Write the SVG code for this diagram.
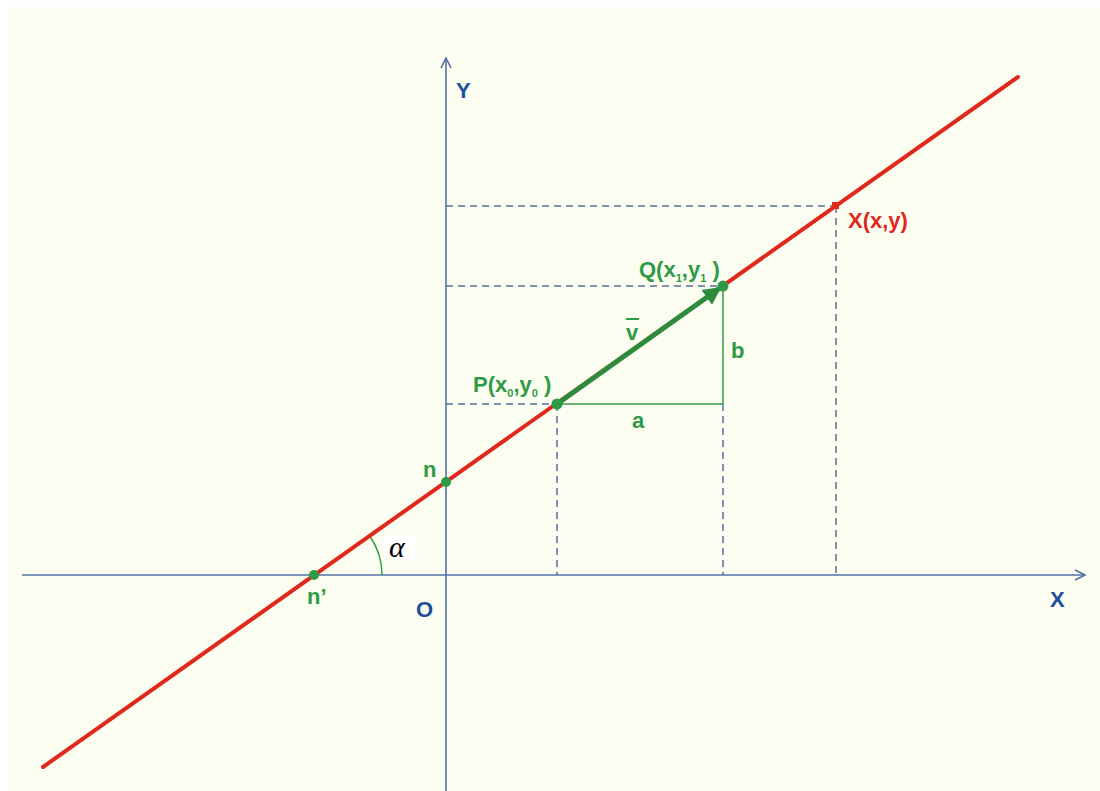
<svg xmlns="http://www.w3.org/2000/svg" width="1100" height="791" viewBox="0 0 1100 791">
<defs>
<style>
.axis{stroke:#5470a8;stroke-width:1.6;fill:none}
.dash{stroke:#5a6c98;stroke-width:1.5;stroke-dasharray:7,5;fill:none}
.thin{stroke:#3a9a4a;stroke-width:1.5;fill:none}
.lbl{font-family:"Liberation Sans",Arial,sans-serif;font-weight:bold;font-size:22px}
.g{fill:#2f9a45}
.b{fill:#1d4f9c}
.r{fill:#e0291c}
</style>
<marker id="open" viewBox="0 0 12 12" refX="11" refY="6" markerWidth="12" markerHeight="12" markerUnits="userSpaceOnUse" orient="auto">
<path d="M1,1 L11,6 L1,11" fill="none" stroke="#5470a8" stroke-width="1.6"/>
</marker>
<marker id="garrow" viewBox="0 0 10 10" refX="9" refY="5" markerWidth="4.5" markerHeight="3.6" orient="auto">
<path d="M0,0 L10,5 L0,10 z" fill="#2e8b3e"/>
</marker>
</defs>
<rect x="0" y="0" width="1100" height="791" fill="#ffffff"/>
<rect x="9" y="7" width="1091" height="784" fill="#fbfdf0"/>
<g id="connectors">
<line class="axis" x1="22" y1="575" x2="1085" y2="575" marker-end="url(#open)"/>
<line class="axis" x1="446" y1="791" x2="446" y2="58" marker-end="url(#open)"/>
<line class="dash" x1="446" y1="206" x2="836" y2="206"/>
<line class="dash" x1="446" y1="286" x2="723" y2="286"/>
<line class="dash" x1="446" y1="404" x2="557" y2="404"/>
<line class="dash" x1="557" y1="404" x2="557" y2="575"/>
<line class="dash" x1="723" y1="404" x2="723" y2="575"/>
<line class="dash" x1="836" y1="206" x2="836" y2="575"/>
<line class="thin" x1="557" y1="404" x2="723" y2="404"/>
<line class="thin" x1="723" y1="286" x2="723" y2="404"/>
<path class="thin" d="M382,575 A68,68 0 0 0 369.7,536"/>
<line x1="43" y1="767" x2="1018" y2="77" stroke="#e0291c" stroke-width="4" stroke-linecap="round"/>
<line x1="557" y1="404" x2="720" y2="288" stroke="#2e8b3e" stroke-width="5" marker-end="url(#garrow)"/>
</g>
<g id="node-nprime"><circle cx="314" cy="575" r="5" fill="#2e9a45"/><text class="lbl g" x="307" y="604">n’</text></g>
<g id="node-n"><circle cx="446" cy="482" r="5" fill="#2e9a45"/><text class="lbl g" x="423" y="477">n</text></g>
<g id="node-P"><circle cx="557" cy="404" r="5.5" fill="#2e9a45"/><text class="lbl g" x="473" y="392">P(x<tspan font-size="11" dy="5">0</tspan><tspan dy="-5">,y</tspan><tspan font-size="11" dy="5">0</tspan><tspan dy="-5"> )</tspan></text></g>
<g id="node-Q"><circle cx="723" cy="286" r="5.5" fill="#2e9a45"/><text class="lbl g" x="639" y="277">Q(x<tspan font-size="11" dy="5">1</tspan><tspan dy="-5">,y</tspan><tspan font-size="11" dy="5">1</tspan><tspan dy="-5"> )</tspan></text></g>
<g id="node-X"><rect x="832" y="202" width="7" height="7" fill="#e0291c"/><text class="lbl r" x="848" y="228">X(x,y)</text></g>
<g id="label-v"><text class="lbl g" x="626" y="340">v</text><line x1="626" y1="319" x2="639" y2="319" stroke="#2f9a45" stroke-width="2"/></g>
<g id="label-a"><text class="lbl g" x="632" y="428">a</text></g>
<g id="label-b"><text class="lbl g" x="731" y="358">b</text></g>
<g id="label-alpha"><rect x="384" y="535" width="32" height="24" fill="#ffffff"/><text x="389" y="557" font-family="'Liberation Serif','Times New Roman',serif" font-style="italic" font-size="30" fill="#000">α</text></g>
<g id="label-O"><text class="lbl b" x="416" y="617">O</text></g>
<g id="label-Y"><text class="lbl b" x="456" y="98">Y</text></g>
<g id="label-X"><text class="lbl b" x="1050" y="607">X</text></g>
</svg>
